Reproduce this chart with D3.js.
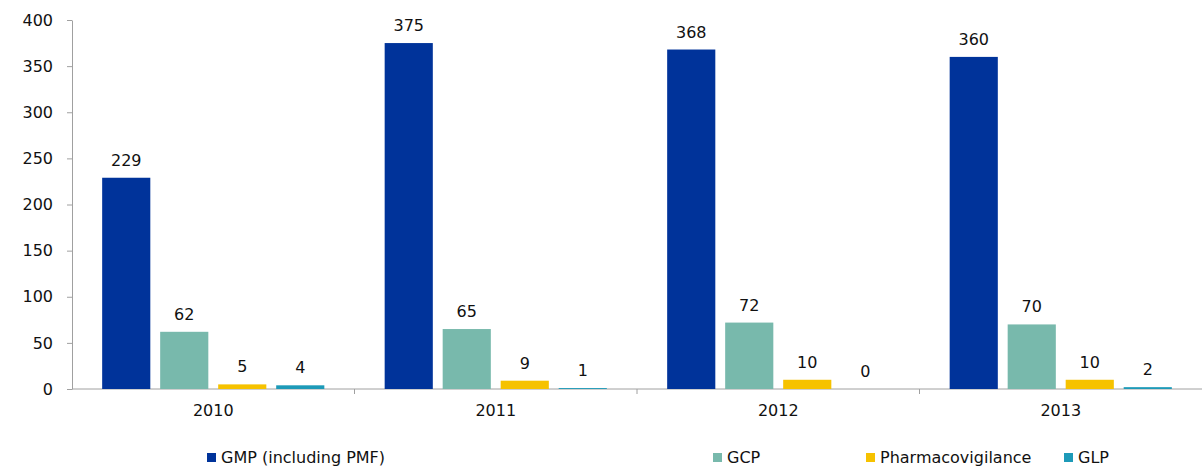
<!DOCTYPE html>
<html>
<head>
<meta charset="utf-8">
<script src="https://cdn.jsdelivr.net/npm/d3@7"></script>
<style>
 body { margin: 0; background: #fff; }
 svg text { font-family: "DejaVu Sans", Verdana, sans-serif; fill: #111; }
 .axis path, .axis line { stroke: #a0a0a0; }
</style>
</head>
<body>
<svg width="1202" height="468"></svg>
<script>
// Data.

var years = ['2010', '2011', '2012', '2013'];
var keys = ['GMP (including PMF)', 'GCP', 'Pharmacovigilance', 'GLP'];
var gmp = [229, 375, 368, 360];
var gcp = [62, 65, 72, 70];
var pharmaco = [5, 9, 10, 10];
var glp = [4, 1, 0, 2];
var yTicks = [0, 50, 100, 150, 200, 250, 300, 350, 400];
var colors = ['#00339a', '#78b9ac', '#f6c200', '#1d9ab8'];

var values = [gmp, gcp, pharmaco, glp];
var data = years.map(function(yr, i) {
 return { year: yr, vals: keys.map(function(k, j) { return { key: k, value: values[j][i] }; }) };
});

var svg = d3.select('svg');
var plotLeft = 72, plotRight = 1202, plotTop = 20, plotBottom = 389;

// Scales.

var x0 = d3.scaleBand().domain(years).range([plotLeft, plotRight]);
var x1 = d3.scaleBand().domain(keys).range([0, x0.bandwidth()]).paddingInner(0.17).paddingOuter(0.52);
var y = d3.scaleLinear().domain([0, 400]).range([plotBottom, plotTop]);
var z = d3.scaleOrdinal().domain(keys).range(colors);

// Axes.

var yAxis = svg.append('g')
 .attr('class', 'axis')
 .attr('transform', 'translate(' + plotLeft + ',0)')
 .call(d3.axisLeft(y).tickValues(yTicks).tickSize(5).tickPadding(14).tickSizeOuter(0));
yAxis.selectAll('text').style('font-size', '16px');

var xAxis = svg.append('g')
 .attr('class', 'axis')
 .attr('transform', 'translate(0,' + plotBottom + ')');
xAxis.append('line')
 .attr('x1', plotLeft).attr('x2', plotRight);
xAxis.selectAll('.sep')
 .data(years.slice(1))
 .enter().append('line')
 .attr('class', 'sep')
 .attr('x1', function(d) { return x0(d); })
 .attr('x2', function(d) { return x0(d); })
 .attr('y2', 5);
xAxis.selectAll('.lbl')
 .data(years)
 .enter().append('text')
 .attr('class', 'lbl')
 .attr('x', function(d) { return x0(d) + x0.bandwidth() / 2; })
 .attr('y', 27)
 .attr('text-anchor', 'middle')
 .style('font-size', '16px')
 .text(function(d) { return d; });

// Bars and value labels.

var groups = svg.append('g')
 .selectAll('g')
 .data(data)
 .enter().append('g')
 .attr('transform', function(d) { return 'translate(' + x0(d.year) + ',0)'; });

groups.selectAll('rect')
 .data(function(d) { return d.vals; })
 .enter().append('rect')
 .attr('x', function(d) { return x1(d.key); })
 .attr('y', function(d) { return y(d.value); })
 .attr('width', x1.bandwidth())
 .attr('height', function(d) { return plotBottom - y(d.value); })
 .attr('fill', function(d) { return z(d.key); });

groups.selectAll('text')
 .data(function(d) { return d.vals; })
 .enter().append('text')
 .attr('x', function(d) { return x1(d.key) + x1.bandwidth() / 2; })
 .attr('y', function(d) { return y(d.value) - 12; })
 .attr('text-anchor', 'middle')
 .style('font-size', '16px')
 .text(function(d) { return d.value; });

// Legend.

var legendX = [207, 713, 866, 1064];
var legend = svg.append('g')
 .selectAll('g')
 .data(keys)
 .enter().append('g')
 .attr('transform', function(d, i) { return 'translate(' + legendX[i] + ',453)'; });

legend.append('rect')
 .attr('width', 9)
 .attr('height', 9)
 .attr('fill', z);

legend.append('text')
 .attr('x', 14)
 .attr('y', 10)
 .style('font-size', '16px')
 .text(function(d) { return d; });
</script>
</body>
</html>
